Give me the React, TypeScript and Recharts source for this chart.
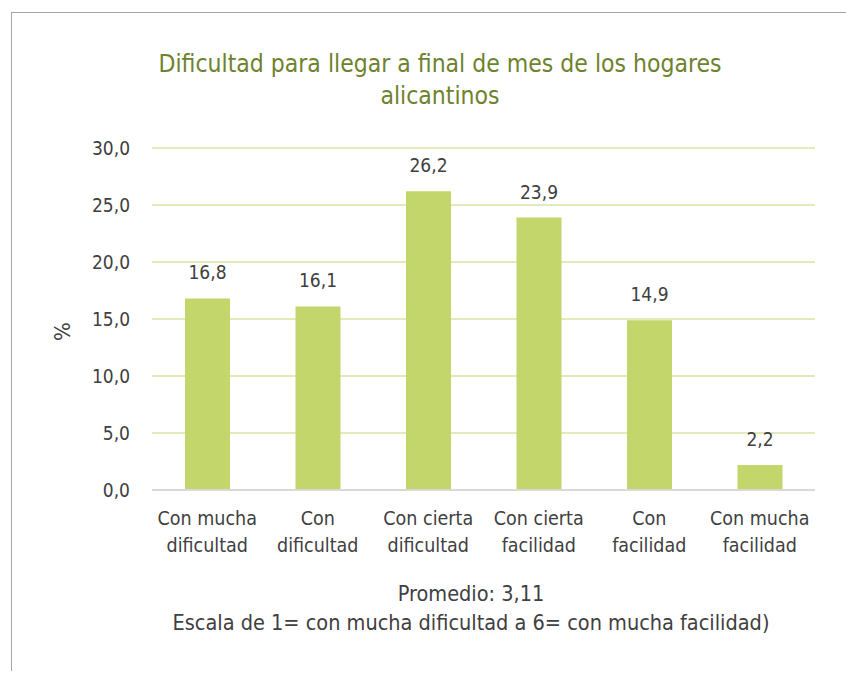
import React from 'react';
import { BarChart, Bar, XAxis, YAxis, CartesianGrid, LabelList } from 'recharts';

const categories = [
  'Con mucha\ndificultad',
  'Con\ndificultad',
  'Con cierta\ndificultad',
  'Con cierta\nfacilidad',
  'Con\nfacilidad',
  'Con mucha\nfacilidad',
];
const percentages = [16.8, 16.1, 26.2, 23.9, 14.9, 2.2];
const yTicks = [0, 5, 10, 15, 20, 25, 30];

const data = categories.map((name, i) => ({ name, value: percentages[i] }));

const FONT = '"DejaVu Sans Condensed", "Liberation Sans Narrow", "Roboto Condensed", "Open Sans", sans-serif';
const TEXT = '#404040';
const fmt = (v: number) => v.toFixed(1).replace('.', ',');

const CategoryTick = (props: any) => {
  const { x, y, payload } = props;
  const lines = String(payload.value).split('\n');
  return (
    <g transform={`translate(${x},${y})`}>
      {lines.map((line, i) => (
        <text key={i} x={0} y={27 + i * 27} textAnchor="middle" fill={TEXT} fontSize={19.5} fontFamily={FONT}>
          {line}
        </text>
      ))}
    </g>
  );
};

export default function App() {
  return (
    <div style={{ position: 'absolute', left: 0, top: 0, width: 846, height: 673, background: '#fff', fontFamily: FONT, overflow: 'hidden' }}>
      <div style={{ position: 'absolute', left: 11, top: 12, width: 834, height: 658, borderTop: '1px solid #a6a6a6', borderLeft: '1px solid #a6a6a6' }} />
      <div style={{ position: 'absolute', left: 0, width: 880, top: 48, textAlign: 'center', color: '#6e822e', fontSize: 24.5, lineHeight: '32px' }}>
        Dificultad para llegar a final de mes de los hogares
        <br />
        alicantinos
      </div>
      <BarChart
        width={846}
        height={673}
        data={data}
        margin={{ top: 148, right: 31, bottom: 153, left: 12 }}
        style={{ position: 'absolute', left: 0, top: 0 }}
      >
        <CartesianGrid vertical={false} stroke="#d7e4a3" strokeWidth={1.5} />
        <XAxis
          dataKey="name"
          height={30}
          axisLine={{ stroke: '#d9d9d9', strokeWidth: 2 }}
          tickLine={false}
          tick={<CategoryTick />}
          interval={0}
        />
        <YAxis
          width={140}
          domain={[0, 30]}
          ticks={yTicks}
          axisLine={false}
          tickLine={false}
          tickSize={0}
          tickMargin={22}
          tickFormatter={fmt}
          tick={{ fill: TEXT, fontSize: 19, fontFamily: FONT }}
          label={{ value: '%', angle: -90, position: 'insideLeft', offset: 50, dy: 22, fill: TEXT, fontSize: 22, fontFamily: FONT }}
        />
        <Bar dataKey="value" fill="#c3d66b" barSize={45} isAnimationActive={false}>
          <LabelList dataKey="value" position="top" offset={19} formatter={fmt} fill={TEXT} fontSize={19} fontFamily={FONT} />
        </Bar>
      </BarChart>
      <div style={{ position: 'absolute', left: 0, width: 942, top: 579, textAlign: 'center', color: TEXT, fontSize: 21.5, lineHeight: '29px' }}>
        Promedio: 3,11
        <br />
        Escala de 1= con mucha dificultad a 6= con mucha facilidad)
      </div>
    </div>
  );
}
